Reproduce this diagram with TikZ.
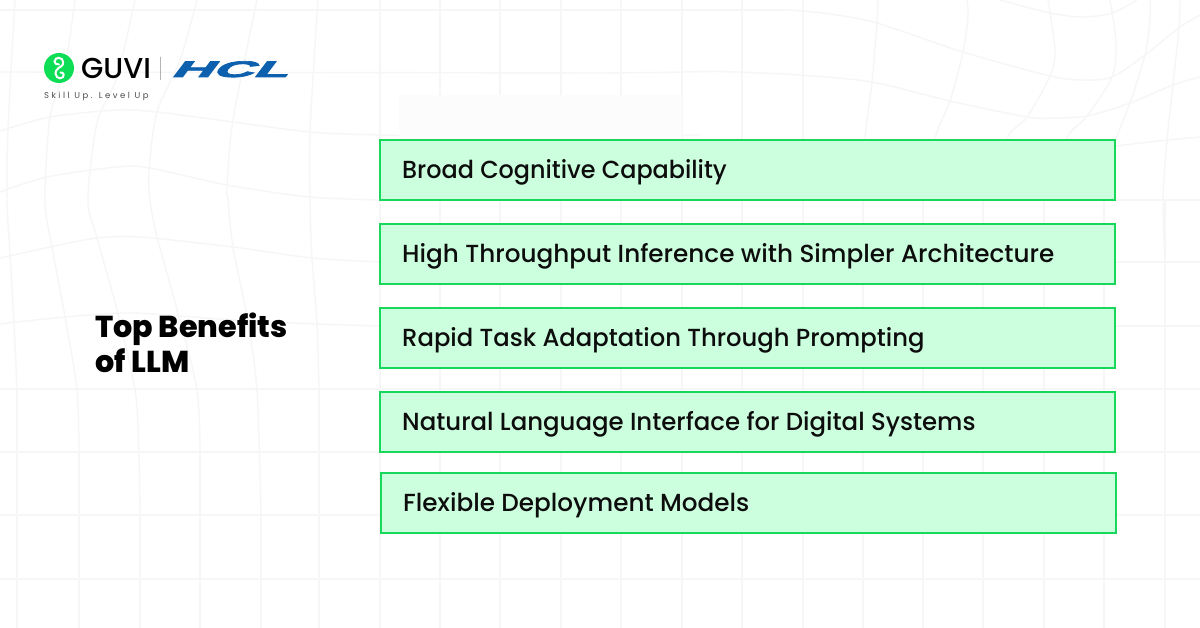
\documentclass[tikz,border=0pt]{standalone}
\usepackage{fontspec}
\setmainfont{Poppins}
\newfontfamily\mediumfont{Poppins Medium}
\newfontfamily\titlefont{Poppins ExtraBold}
\newfontfamily\tagfont[LetterSpace=29]{Poppins}
\newfontfamily\hclfont[FakeBold=3,FakeSlant=0.3]{Liberation Sans Bold}
\usetikzlibrary{positioning}
\definecolor{gridgray}{RGB}{246,246,246}
\definecolor{boxgreen}{RGB}{24,216,92}
\definecolor{boxfill}{RGB}{204,255,222}
\definecolor{logogreen}{RGB}{14,221,86}
\definecolor{hclblue}{RGB}{12,96,174}
\tikzset{%
  gridline/.style={draw=gridgray, line width=1.4pt},
  benefit/.style={rectangle, draw=boxgreen, fill=boxfill, line width=1.5pt, minimum width=735pt,
    minimum height=60pt, inner sep=0pt, outer sep=0pt},
  benefittext/.style={anchor=base west, inner sep=0pt, text=black!95,
    font=\mediumfont\fontsize{24.7}{28}\selectfont},
}
\begin{document}
\begin{tikzpicture}
    [x=1pt, y=-1pt, node distance=84pt]
    \useasboundingbox (0,0) rectangle (1200,628);
    \fill [white] (0,0) rectangle (1200,628);

    % background net, straight part
    \foreach \gy in {389,452,515,579}
      \draw [gridline] (0,\gy) -- (1200,\gy);
    \foreach \gx in {380,440,500,561,621,682,742}
      \draw [gridline] (\gx,0) -- (\gx,628);
    \draw [gridline] (803,0) -- (803,628);
    \foreach \gx in {863,923,983,1044,1104,1165}
      \draw [gridline] (\gx,200) -- (\gx,628);
    \draw [gridline] (0,10) -- (790,10);
    \draw [gridline] (380,200) -- (1200,200);
    \draw [gridline] (380,262) -- (1200,262);
    \draw [gridline] (380,326) -- (1200,326);
    \foreach \gx/\gy in {17/389,79/453,140/517,200/453,261/517,319/389}
      \draw [gridline] (\gx,\gy) -- (\gx,628);
    % background net, warped part
    \draw [gridline] plot [smooth] coordinates {(790,10) (830,14) (877,23) (963,52) (1050,76)
      (1083,80) (1112,77) (1145,55) (1180,27) (1200,15)};
    \draw [gridline] plot [smooth] coordinates {(1000,0) (1050,13) (1083,17) (1112,13) (1137,0)};
    \draw [gridline] (0,72) -- (600,73);
    \draw [gridline] plot [smooth] coordinates {(600,73) (660,72.5) (715,71.5) (760,73) (800,75)
      (872,82) (950,101) (1027,117) (1053,118) (1087,116) (1130,103) (1173,85) (1200,77)};
    \draw [gridline] plot [smooth] coordinates {(0,131) (50,117) (117,110) (157,112) (233,122)
      (310,132) (380,135) (440,135.5)};
    \draw [gridline] (440,135.5) -- (700,135);
    \draw [gridline] (1115,146) -- (1167,140) -- (1200,137);
    \draw [gridline] plot [smooth] coordinates {(0,192) (47,177) (117,167) (150,168) (227,185)
      (310,197) (380,200)};
    \draw [gridline] plot [smooth] coordinates {(0,258) (50,247) (97,238) (140,237) (233,247)
      (312,258) (380,262)};
    \draw [gridline] plot [smooth] coordinates {(0,324) (65,317) (133,313) (233,320) (317,324)
      (380,326)};
    \draw [gridline] plot [smooth] coordinates {(15,0) (8,130) (7,200) (10,255) (14,323) (17,389)};
    \draw [gridline] plot [smooth] coordinates {(75,0) (65,67) (50,117) (45,200) (52,247) (65,317)
      (77,390) (79,453)};
    \draw [gridline] plot [smooth] coordinates {(135,0) (117,77) (97,123) (88,200) (97,238) (117,310)
      (135,390) (139,453) (140,517)};
    \draw [gridline] plot [smooth] coordinates {(197,0) (180,60) (157,112) (149,170) (150,200)
      (157,237) (178,313) (197,390) (200,453)};
    \draw [gridline] plot [smooth] coordinates {(257,0) (233,120) (227,187) (228,200) (233,247)
      (247,317) (257,390) (261,517)};
    \draw [gridline] plot [smooth] coordinates {(318,0) (310,132) (310,200) (312,258) (317,324)
      (319,389)};
    \draw [gridline] plot [smooth] coordinates {(878,0) (877,23) (872,82) (865,138) (863,200)};
    \draw [gridline] plot [smooth] coordinates {(967,0) (968,17) (963,52) (950,101) (935,138)
      (923,200)};
    \draw [gridline] plot [smooth] coordinates {(1048,0) (1055,50) (1050,76) (1027,117) (1007,138)
      (983,200)};
    \draw [gridline] plot [smooth] coordinates {(1110,0) (1116,43) (1112,77) (1087,116) (1067,138)
      (1044,200)};
    \draw [gridline] plot [smooth] coordinates {(1150,0) (1150,20) (1145,55) (1130,103) (1115,143)
      (1104,200)};
    \draw [gridline] plot [smooth] coordinates {(1180,0) (1179,27) (1173,85) (1167,140) (1163,200)
      (1165,260)};
    \fill [black!1] (399,95) rectangle (682,139);

    % logo
    \node [circle, fill=logogreen, minimum size=30pt, inner sep=0pt] (guvi_mark) at (59,68) {};
    \draw [white, line width=2pt, line cap=round] (59,64.5) .. controls (56,65) and (54.5,63) .. (54.5,61.5)
      .. controls (54.5,59) and (57,57.8) .. (58.8,57.8) .. controls (61.5,57.8) and (63.2,60) .. (63.2,62.5)
      .. controls (63.2,66) and (60,67) .. (58.5,68) .. controls (56.5,69.5) and (55.5,71.5) .. (55.5,73.5)
      .. controls (55.5,76.5) and (58,78.3) .. (60,78.3) .. controls (62.5,78.3) and (64,76.5) .. (63.7,74.5)
      .. controls (63.5,73) and (62,72.3) .. (60.5,72.5);
    \node [anchor=base west, inner sep=0pt, font=\mediumfont\fontsize{28.8}{28}\selectfont]
      (guvi_name) at (81,79) {GUVI};
    \node [draw=black!45, line width=0.8pt, minimum width=0pt, minimum height=23pt, inner sep=0pt]
      (logo_bar) at (160,68.5) {};
    \node [anchor=base, inner sep=0pt, text=hclblue, xscale=2.52,
      font=\hclfont\fontsize{22.5}{22}\selectfont] (hcl_name) at (228.5,77) {HCL};
    \node [anchor=base west, inner sep=0pt, text=black!70, font=\tagfont\fontsize{8.5}{9}\selectfont]
      (guvi_tag) at (44,98.5) {Skill Up. Level Up};

    % title
    \node [anchor=base west, align=left, inner sep=0pt, text=black,
      font=\titlefont\fontsize{30.2}{35}\selectfont] (title) at (95,373) {Top Benefits\\of LLM};

    % boxes
    \node [benefit] (cognitive) at (747.5,170) {};
    \node [benefit, below of=cognitive] (throughput) {};
    \node [benefit, below of=throughput] (adaptation) {};
    \node [benefit, below of=adaptation] (interface) {};
    \node [benefit, below of=interface, node distance=81pt, xshift=1pt] (deployment) {};

    \node [benefittext, xscale=.967] (cognitive_text) at (402,178.5) {Broad Cognitive Capability};
    \node [benefittext] (throughput_text) at (402,262.5) {High Throughput Inference with Simpler Architecture};
    \node [benefittext, xscale=.983] (adaptation_text) at (402,346.5) {Rapid Task Adaptation Through Prompting};
    \node [benefittext, xscale=.988] (interface_text) at (402,430.5) {Natural Language Interface for Digital Systems};
    \node [benefittext] (deployment_text) at (403,511.5) {Flexible Deployment Models};
\end{tikzpicture}
\end{document}
